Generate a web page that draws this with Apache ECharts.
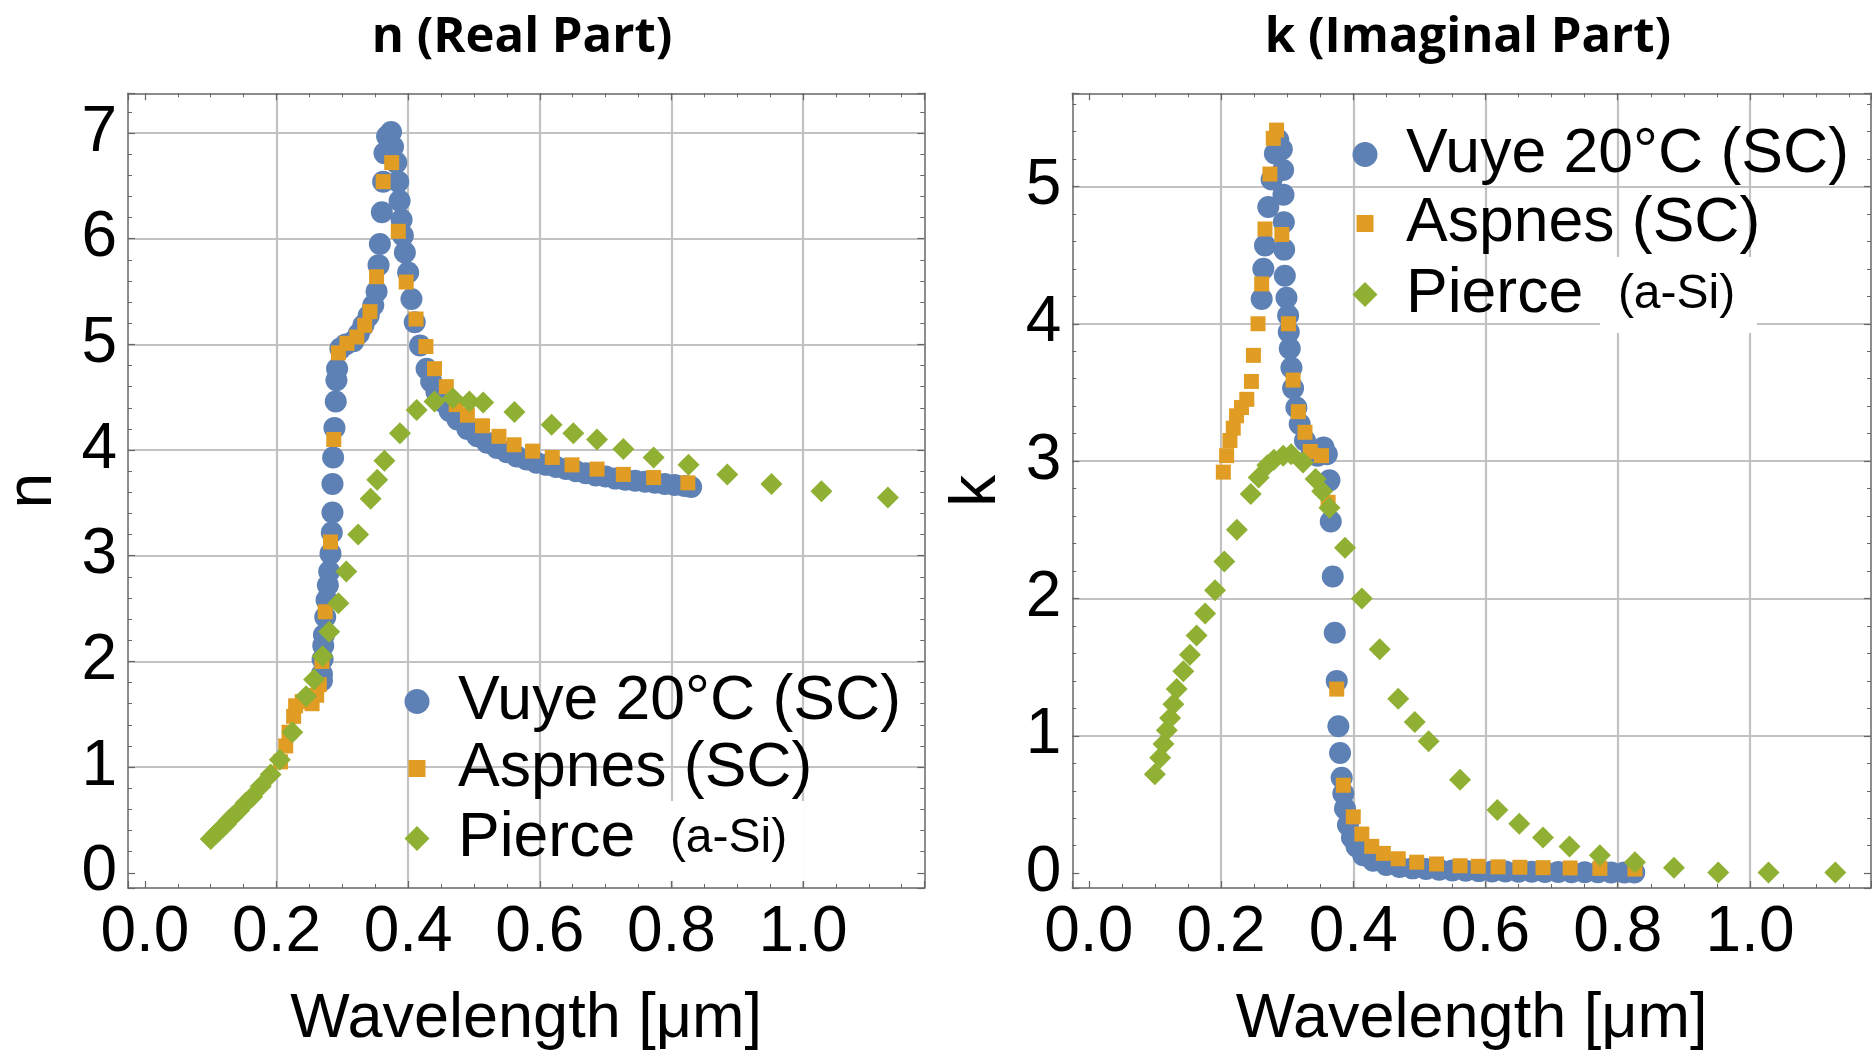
<!DOCTYPE html>
<html><head><meta charset="utf-8">
<script src="https://cdn.jsdelivr.net/npm/echarts@6/dist/echarts.min.js"></script>
<style>html,body{margin:0;padding:0;background:#fff}#c{width:1872px;height:1056px}</style>
</head><body><div id="c"></div>
<script>
// ---------- data (wavelength in µm) ----------
const vuyeNLam = [0.269,0.269,0.270,0.271,0.272,0.274,0.276,0.278,0.280,0.282,0.284,0.285,0.285,0.286,0.288,0.290,0.291,0.292,0.297,0.305,0.317,0.325,0.332,0.340,0.347,0.352,0.355,0.357,0.360,0.362,0.364,0.368,0.374,0.377,0.382,0.385,0.387,0.390,0.392,0.395,0.400,0.405,0.410,0.418,0.428,0.435,0.443,0.452,0.463,0.475,0.490,0.505,0.520,0.535,0.550,0.565,0.580,0.595,0.610,0.625,0.640,0.655,0.670,0.685,0.700,0.715,0.730,0.745,0.760,0.775,0.790,0.805,0.820,0.830];
const vuyeN = [1.82,1.88,2.02,2.15,2.25,2.42,2.58,2.72,2.85,3.02,3.22,3.41,3.68,3.93,4.21,4.46,4.66,4.77,4.96,5.00,5.03,5.10,5.18,5.27,5.37,5.50,5.75,5.95,6.25,6.54,6.81,6.97,7.01,6.87,6.72,6.54,6.36,6.18,6.03,5.87,5.68,5.43,5.21,4.99,4.77,4.65,4.55,4.46,4.37,4.29,4.20,4.13,4.07,4.02,3.98,3.94,3.91,3.88,3.86,3.84,3.82,3.80,3.78,3.76,3.75,3.73,3.72,3.71,3.70,3.69,3.68,3.67,3.66,3.65];

const aspNLam = [0.206,0.214,0.219,0.226,0.229,0.239,0.254,0.261,0.265,0.269,0.274,0.282,0.287,0.294,0.307,0.322,0.334,0.342,0.352,0.362,0.375,0.385,0.397,0.412,0.427,0.440,0.458,0.473,0.490,0.513,0.538,0.561,0.589,0.619,0.649,0.687,0.727,0.773,0.825];
const aspN = [1.05,1.20,1.33,1.48,1.58,1.62,1.60,1.68,1.78,2.00,2.47,3.13,4.10,4.92,5.01,5.07,5.18,5.31,5.64,6.54,6.72,6.07,5.59,5.24,4.98,4.77,4.60,4.43,4.33,4.23,4.13,4.05,3.99,3.93,3.86,3.82,3.77,3.74,3.69];

const pierceLam = [0.100,0.108,0.113,0.118,0.123,0.128,0.133,0.143,0.153,0.163,0.176,0.191,0.205,0.224,0.245,0.257,0.270,0.280,0.294,0.306,0.324,0.343,0.353,0.364,0.3875,0.413,0.440,0.468,0.493,0.514,0.5615,0.618,0.651,0.687,0.727,0.773,0.826,0.885,0.952,1.028,1.129];
const pierceN = [0.32,0.37,0.40,0.43,0.46,0.50,0.53,0.59,0.66,0.72,0.82,0.93,1.07,1.33,1.67,1.83,2.05,2.28,2.55,2.85,3.20,3.54,3.72,3.90,4.16,4.38,4.46,4.49,4.46,4.45,4.36,4.24,4.16,4.10,4.01,3.93,3.86,3.77,3.68,3.61,3.55];
const pierceK = [0.72,0.84,0.94,1.04,1.13,1.23,1.34,1.47,1.59,1.73,1.89,2.06,2.27,2.50,2.76,2.88,2.97,3.01,3.04,3.05,2.99,2.87,2.78,2.66,2.37,2.00,1.63,1.27,1.10,0.96,0.68,0.46,0.36,0.26,0.195,0.13,0.08,0.04,0.005,0.005,0.005];

const vuyeKLam = [0.2615,0.264,0.2665,0.2715,0.2765,0.2815,0.2865,0.292,0.294,0.2945,0.295,0.2955,0.2965,0.299,0.3015,0.3025,0.304,0.3065,0.309,0.314,0.319,0.327,0.337,0.346,0.355,0.360,0.364,0.366,0.369,0.372,0.375,0.3775,0.380,0.3825,0.385,0.3875,0.392,0.398,0.405,0.415,0.43,0.45,0.47,0.49,0.51,0.53,0.55,0.57,0.59,0.61,0.63,0.65,0.67,0.69,0.71,0.73,0.75,0.77,0.79,0.81,0.825];
const vuyeK = [4.18,4.40,4.57,4.85,5.05,5.24,5.34,5.27,5.12,4.94,4.74,4.54,4.35,4.19,4.06,3.94,3.82,3.68,3.53,3.39,3.27,3.15,3.05,3.04,3.10,3.05,2.86,2.56,2.16,1.75,1.40,1.07,0.875,0.695,0.58,0.47,0.35,0.26,0.195,0.13,0.09,0.06,0.045,0.035,0.03,0.025,0.02,0.018,0.015,0.013,0.012,0.011,0.01,0.009,0.008,0.007,0.006,0.006,0.005,0.005,0.005];

const aspKLam = [0.2035,0.2085,0.2135,0.2185,0.2235,0.231,0.239,0.246,0.249,0.256,0.2615,0.2665,0.274,0.279,0.284,0.292,0.302,0.309,0.317,0.327,0.335,0.352,0.362,0.375,0.385,0.400,0.413,0.428,0.4455,0.468,0.496,0.526,0.5615,0.589,0.619,0.652,0.687,0.728,0.773,0.826];
const aspK = [2.92,3.04,3.15,3.24,3.33,3.39,3.45,3.58,3.77,4.00,4.29,4.69,5.09,5.35,5.41,4.65,4.00,3.59,3.36,3.21,3.07,3.04,2.70,1.34,0.64,0.41,0.285,0.195,0.144,0.105,0.080,0.067,0.054,0.050,0.046,0.043,0.040,0.038,0.035,0.030];

const seriesNames = ['Vuye 20°C (SC)', 'Aspnes (SC)', 'Pierce'];
const titles = ['n (Real Part)', 'k (Imaginal Part)'];
const axisNames = ['n', 'k', 'Wavelength [μm]'];

// ---------- styling ----------
const FONT = "'Liberation Sans', Arial, sans-serif";
const BLUE = '#5E81B5', ORANGE = '#E19C24', GREEN = '#8FB032';
const GRID_C = '#c2c2c2', FRAME_C = '#666666', NONE = 'rgba(0,0,0,0)';

const zip = (a, b) => a.map((v, i) => [v, b[i]]);

function gridColors(n) { const c = [NONE]; for (let i = 0; i < n; i++) c.push(GRID_C); return c; }

function xMain(gi, min, max) {
  return {
    type: 'value', gridIndex: gi, min, max, splitNumber: 6, position: 'bottom',
    axisLine: { show: true, onZero: false, lineStyle: { color: FRAME_C, width: 1.5 } },
    axisTick: { show: true, inside: true, length: 7, lineStyle: { color: FRAME_C, width: 1.2 } },
    minorTick: { show: true, splitNumber: 4, length: 4, lineStyle: { color: FRAME_C, width: 1 } },
    minorSplitLine: { show: false },
    axisLabel: { show: true, margin: 13, fontSize: 64, lineHeight: 64, fontFamily: FONT, color: '#000',
      showMinLabel: false, showMaxLabel: false, formatter: v => v.toFixed(1) },
    splitLine: { show: true, showMinLine: false, showMaxLine: false, lineStyle: { color: gridColors(5), width: 2.2 } },
    name: axisNames[2], nameLocation: 'middle', nameGap: 100,
    nameTextStyle: { fontSize: 63, lineHeight: 63, fontFamily: FONT, color: '#000' }
  };
}
function xTop(gi, min, max) {
  return {
    type: 'value', gridIndex: gi, min, max, splitNumber: 6, position: 'top',
    axisLine: { show: true, onZero: false, lineStyle: { color: FRAME_C, width: 1.5 } },
    axisTick: { show: true, inside: true, length: 7, lineStyle: { color: FRAME_C, width: 1.2 } },
    minorTick: { show: true, splitNumber: 4, length: 4, lineStyle: { color: FRAME_C, width: 1 } },
    axisLabel: { show: false }, splitLine: { show: false }
  };
}
function yMain(gi, min, max, nLines, name) {
  return {
    type: 'value', gridIndex: gi, min, max, splitNumber: 7, position: 'left',
    axisLine: { show: true, onZero: false, lineStyle: { color: FRAME_C, width: 1.5 } },
    axisTick: { show: true, inside: true, length: 7, lineStyle: { color: FRAME_C, width: 1.2 } },
    minorTick: { show: true, splitNumber: 5, length: 4, lineStyle: { color: FRAME_C, width: 1 } },
    axisLabel: { show: true, margin: 11, fontSize: 64, lineHeight: 64, fontFamily: FONT, color: '#000',
      showMinLabel: false, showMaxLabel: false, formatter: v => String(Math.round(v)) },
    splitLine: { show: true, showMinLine: false, showMaxLine: false, lineStyle: { color: gridColors(nLines), width: 2.2 } },
    name: name, nameLocation: 'middle', nameGap: 63,
    nameTextStyle: { fontSize: 64, lineHeight: 64, fontFamily: FONT, color: '#000' }
  };
}
function yRight(gi, min, max) {
  return {
    type: 'value', gridIndex: gi, min, max, splitNumber: 7, position: 'right',
    axisLine: { show: true, onZero: false, lineStyle: { color: FRAME_C, width: 1.5 } },
    axisTick: { show: true, inside: true, length: 7, lineStyle: { color: FRAME_C, width: 1.2 } },
    minorTick: { show: true, splitNumber: 5, length: 4, lineStyle: { color: FRAME_C, width: 1 } },
    axisLabel: { show: false }, splitLine: { show: false }
  };
}

function sc(name, xi, yi, data, symbol, size, color) {
  return { type: 'scatter', name, xAxisIndex: xi, yAxisIndex: yi, data, symbol, symbolSize: size,
    itemStyle: { color, opacity: 1 }, emphasis: { disabled: true }, silent: true, animation: false };
}

const ICON_SQ = 'path://M0,0L10,0L10,10L0,10Z';
const ICON_DI = 'path://M5,0L10,5L5,10L0,5Z';
const legTxt = { fontSize: 62.5, lineHeight: 60, fontFamily: FONT, color: '#000' };
// markerX: centre of the legend symbol; size: symbol size (box is centred, only the drawn symbol counts for layout)
function leg(name, icon, size, markerX, cy) {
  const o = { data: [{ name, icon }], left: markerX - size / 2, top: cy - 30, padding: 0,
    itemWidth: 2 * (41 - 5), itemHeight: size,
    selectedMode: false, textStyle: Object.assign({}, legTxt) };
  if (name === 'Pierce') {
    o.formatter = () => '{a|Pierce  }{b|(a-Si)}';
    o.textStyle.rich = { a: Object.assign({}, legTxt), b: { fontSize: 48, lineHeight: 60, fontFamily: FONT, color: '#000' } };
  }
  return o;
}

const option = {
  animation: false,
  backgroundColor: '#fff',
  textStyle: { fontFamily: FONT },
  grid: [
    { left: 123.3, top: 93.3, width: 801, height: 799.6 },
    { left: 1072.3, top: 93.3, width: 798.7, height: 799.6 }
  ],
  xAxis: [
    xMain(0, -0.0257, 1.1843), xTop(0, -0.0257, 1.1843),
    xMain(1, -0.0249, 1.183), xTop(1, -0.0249, 1.183)
  ],
  yAxis: [
    yMain(0, -0.144, 7.376, 7, axisNames[0]), yRight(0, -0.144, 7.376),
    yMain(1, -0.108, 5.678, 5, axisNames[1]), yRight(1, -0.108, 5.678)
  ],
  legend: [
    leg(seriesNames[0], 'circle', 25, 417, 700),
    leg(seriesNames[1], ICON_SQ, 17, 417, 767),
    leg(seriesNames[2], ICON_DI, 25, 417, 837),
    leg(seriesNames[0], 'circle', 25, 1365, 153),
    leg(seriesNames[1], ICON_SQ, 17, 1365, 222),
    leg(seriesNames[2], ICON_DI, 25, 1365, 293)
  ],
  graphic: [
    { type: 'rect', shape: { x: 662, y: 801, width: 142, height: 80 }, style: { fill: '#fff' }, z: 3, silent: true },
    { type: 'rect', shape: { x: 1600, y: 257, width: 157, height: 76 }, style: { fill: '#fff' }, z: 3, silent: true },
    { type: 'text', x: 522, y: 38, silent: true, style: { text: titles[0], fontSize: 49, fontWeight: 'bold', fontFamily: "'Open Sans', sans-serif", fill: '#000', align: 'center', verticalAlign: 'middle' } },
    { type: 'text', x: 1468, y: 38, silent: true, style: { text: titles[1], fontSize: 49, fontWeight: 'bold', fontFamily: "'Open Sans', sans-serif", fill: '#000', align: 'center', verticalAlign: 'middle' } }
  ],
  series: [
    sc(seriesNames[0], 0, 0, zip(vuyeNLam, vuyeN), 'circle', 22, BLUE),
    sc(seriesNames[1], 0, 0, zip(aspNLam, aspN), 'rect', 15, ORANGE),
    sc(seriesNames[2], 0, 0, zip(pierceLam, pierceN), 'diamond', 22, GREEN),
    sc(seriesNames[0], 2, 2, zip(vuyeKLam, vuyeK), 'circle', 22, BLUE),
    sc(seriesNames[1], 2, 2, zip(aspKLam, aspK), 'rect', 15, ORANGE),
    sc(seriesNames[2], 2, 2, zip(pierceLam, pierceK), 'diamond', 22, GREEN)
  ]
};

const chart = echarts.init(document.getElementById('c'), null, { renderer: 'canvas' });
chart.setOption(option);
</script>
</body></html>
